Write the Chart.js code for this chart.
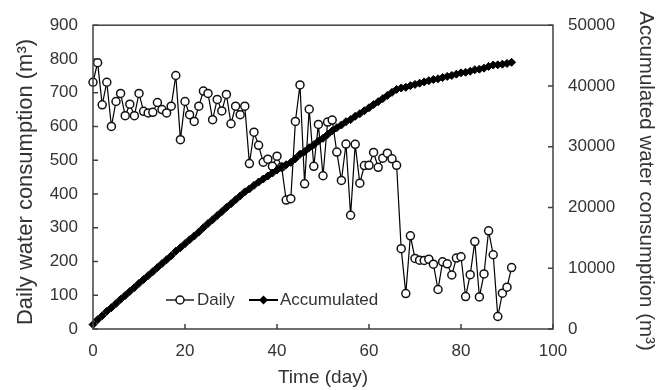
<!DOCTYPE html>
<html><head><meta charset="utf-8">
<style>html,body{margin:0;padding:0;background:#fff;}#wrap{width:664px;height:390px;}</style>
<script src="https://cdn.jsdelivr.net/npm/chart.js@4.4.0/dist/chart.umd.min.js"></script>
</head><body><div id="wrap"><canvas id="c" width="664" height="390"></canvas></div>
<script>
const days = [0,1,2,3,4,5,6,7,8,9,10,11,12,13,14,15,16,17,18,19,20,21,22,23,24,25,26,27,28,29,30,31,32,33,34,35,36,37,38,39,40,41,42,43,44,45,46,47,48,49,50,51,52,53,54,55,56,57,58,59,60,61,62,63,64,65,66,67,68,69,70,71,72,73,74,75,76,77,78,79,80,81,82,83,84,85,86,87,88,89,90,91];
const dailyWater = [731,789,664,731,600,674,698,632,666,632,
 698,645,640,642,671,650,640,660,751,561,
 674,635,615,660,705,698,620,680,646,695,
 608,660,635,660,490,583,544,494,503,482,
 512,480,382,386,615,723,430,651,482,606,
 454,613,619,524,440,548,337,547,432,484,
 485,523,479,506,521,504,485,238,105,276,
 209,204,203,207,192,117,199,193,160,210,
 214,96,161,259,95,163,291,220,37,106,
 124,182];
const accumulatedWater = [731,1520,2184,2915,3515,4189,4887,5519,6185,6817,
 7515,8160,8800,9442,10113,10763,11403,12063,12814,13375,
 14049,14684,15299,15959,16664,17362,17982,18662,19308,20003,
 20611,21271,21906,22566,23056,23639,24183,24677,25180,25662,
 26174,26654,27036,27422,28037,28760,29190,29841,30323,30929,
 31383,31996,32615,33139,33579,34127,34464,35011,35443,35927,
 36412,36935,37414,37920,38441,38945,39430,39668,39773,40049,
 40258,40462,40665,40872,41064,41181,41380,41573,41733,41943,
 42157,42253,42414,42673,42768,42931,43222,43442,43479,43585,
 43709,43891];
const xTicks = [0,20,40,60,80,100];
const leftTicks = [0,100,200,300,400,500,600,700,800,900];
const rightTicks = [0,10000,20000,30000,40000,50000];
const seriesNames = ['Daily','Accumulated'];
const xTitle = 'Time (day)';
const leftTitle = 'Daily water consumption (m³)';
const rightTitle = 'Accumulated water consumption (m³)';

const INK = '#333333';
const AXIS = '#404040';
const FONT = "'Liberation Sans', Arial, sans-serif";
Chart.defaults.font.family = FONT;
Chart.defaults.color = INK;

const framePlugin = {
  id: 'frameTicks',
  afterDatasetsDraw(chart) {
    const {ctx, chartArea: a, scales} = chart;
    ctx.save();
    ctx.strokeStyle = AXIS;
    ctx.lineWidth = 1.5;
    ctx.strokeRect(a.left, a.top, a.right - a.left, a.bottom - a.top);
    ctx.beginPath();
    xTicks.forEach(v => { const p = scales.x.getPixelForValue(v); ctx.moveTo(p, a.bottom); ctx.lineTo(p, a.bottom - 5); });
    leftTicks.forEach(v => { const p = scales.y.getPixelForValue(v); ctx.moveTo(a.left, p); ctx.lineTo(a.left + 5, p); });
    rightTicks.forEach(v => { const p = scales.y2.getPixelForValue(v); ctx.moveTo(a.right, p); ctx.lineTo(a.right - 5, p); });
    ctx.stroke();
    ctx.restore();
  },
  afterDraw(chart) {
    const ctx = chart.ctx;
    const y = 300;
    ctx.save();
    ctx.font = '17px ' + FONT;
    ctx.fillStyle = INK;
    ctx.textBaseline = 'middle';
    ctx.textAlign = 'left';
    // Daily
    ctx.strokeStyle = '#000'; ctx.lineWidth = 1.3;
    ctx.beginPath(); ctx.moveTo(166, y); ctx.lineTo(194, y); ctx.stroke();
    ctx.beginPath(); ctx.arc(180, y, 4, 0, Math.PI * 2); ctx.fillStyle = '#fff'; ctx.fill();
    ctx.lineWidth = 1.5; ctx.strokeStyle = '#111'; ctx.stroke();
    ctx.fillStyle = INK; ctx.fillText(seriesNames[0], 197, y);
    // Accumulated
    ctx.strokeStyle = '#000'; ctx.lineWidth = 2;
    ctx.beginPath(); ctx.moveTo(249, y); ctx.lineTo(278, y); ctx.stroke();
    ctx.beginPath(); ctx.moveTo(263.5 - 4.5, y); ctx.lineTo(263.5, y - 4.5); ctx.lineTo(263.5 + 4.5, y); ctx.lineTo(263.5, y + 4.5); ctx.closePath();
    ctx.fillStyle = '#000'; ctx.fill();
    ctx.fillStyle = INK; ctx.fillText(seriesNames[1], 280, y);
    // Vertical axis titles
    ctx.textAlign = 'center';
    ctx.fillStyle = INK;
    ctx.save();
    ctx.translate(26, 182); ctx.rotate(-Math.PI / 2);
    ctx.font = '22px ' + FONT;
    ctx.fillText(leftTitle, 0, 0);
    ctx.restore();
    ctx.save();
    ctx.translate(646, 181); ctx.rotate(Math.PI / 2);
    ctx.font = '20.5px ' + FONT;
    ctx.fillText(rightTitle, 0, 0);
    ctx.restore();
    ctx.restore();
  }
};

new Chart(document.getElementById('c'), {
  type: 'line',
  data: {
    datasets: [
      {
        label: seriesNames[1],
        data: days.map((d, i) => ({x: d, y: accumulatedWater[i]})),
        yAxisID: 'y2',
        order: 0,
        borderColor: '#000',
        borderWidth: 1.5,
        pointStyle: 'rectRot',
        pointRadius: 4,
        pointBackgroundColor: '#000',
        pointBorderColor: '#000',
        pointBorderWidth: 1,
        tension: 0,
        clip: false
      },
      {
        label: seriesNames[0],
        data: days.map((d, i) => ({x: d, y: dailyWater[i]})),
        yAxisID: 'y',
        order: 1,
        borderColor: '#000',
        borderWidth: 1.2,
        pointStyle: 'circle',
        pointRadius: 4,
        pointBackgroundColor: '#fff',
        pointBorderColor: '#111',
        pointBorderWidth: 1.5,
        tension: 0,
        clip: false
      }
    ]
  },
  options: {
    responsive: false,
    animation: false,
    devicePixelRatio: 1,
    layout: {padding: {top: 21, left: 0, right: 0, bottom: 0}},
    plugins: {legend: {display: false}, tooltip: {enabled: false}},
    scales: {
      x: {
        type: 'linear', position: 'bottom', min: 0, max: 100,
        afterBuildTicks: s => { s.ticks = xTicks.map(v => ({value: v})); },
        afterFit: s => { s.height = 61; },
        grid: {display: false, drawTicks: false},
        border: {display: false},
        ticks: {padding: 12, font: {size: 17}, color: INK, maxRotation: 0, callback: v => String(v)},
        title: {display: true, text: xTitle, font: {size: 19}, color: INK, padding: {top: 0, bottom: 1}}
      },
      y: {
        type: 'linear', position: 'left', min: 0, max: 900,
        afterBuildTicks: s => { s.ticks = leftTicks.map(v => ({value: v})); },
        afterFit: s => { s.width = 93; },
        grid: {display: false, drawTicks: false},
        border: {display: false},
        ticks: {padding: 15, font: {size: 17}, color: INK, callback: v => String(v)}
      },
      y2: {
        type: 'linear', position: 'right', min: 0, max: 50000,
        afterBuildTicks: s => { s.ticks = rightTicks.map(v => ({value: v})); },
        afterFit: s => { s.width = 111; },
        grid: {display: false, drawTicks: false},
        border: {display: false},
        ticks: {padding: 15, font: {size: 17}, color: INK, callback: v => String(v)}
      }
    }
  },
  plugins: [framePlugin]
});
</script>
</body></html>
